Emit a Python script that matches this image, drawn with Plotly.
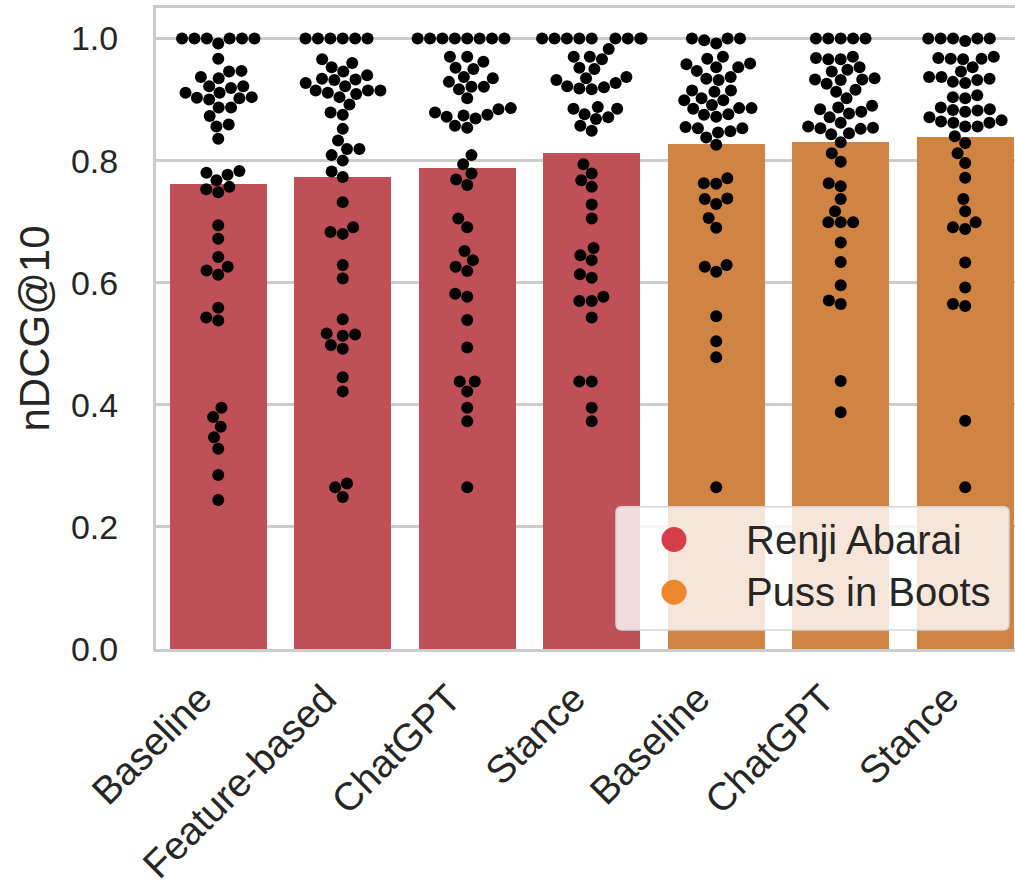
import numpy as np
import plotly.graph_objects as go

# ---- data -------------------------------------------------------------
methods = ["Baseline", "Feature-based", "ChatGPT", "Stance",
           "Baseline", "ChatGPT", "Stance"]
characters = ["Renji Abarai"] * 4 + ["Puss in Boots"] * 3

# mean nDCG@10 per method (bar heights)
mean_ndcg = [0.762, 0.773, 0.788, 0.812, 0.827, 0.830, 0.838]

# per-query nDCG@10 scores
renji_baseline = [1.0, 1.0, 1.0, 1.0, 1.0, 1.0, 0.992, 0.967, 0.946, 0.947,
                  0.935, 0.937, 0.922, 0.919, 0.922, 0.911, 0.903, 0.904, 0.900, 0.902,
                  0.911, 0.887, 0.887, 0.873, 0.859, 0.856, 0.836, 0.783, 0.780, 0.777,
                  0.768, 0.757, 0.748, 0.753, 0.694, 0.672, 0.642, 0.620, 0.613, 0.626,
                  0.559, 0.538, 0.543, 0.395, 0.380, 0.364, 0.347, 0.328, 0.285, 0.244]
renji_feature = [1.0, 1.0, 1.0, 1.0, 1.0, 1.0, 0.966, 0.960, 0.953, 0.946,
                 0.940, 0.934, 0.933, 0.932, 0.927, 0.922, 0.915, 0.911, 0.909, 0.915,
                 0.915, 0.904, 0.892, 0.879, 0.875, 0.852, 0.833, 0.819, 0.819, 0.809,
                 0.800, 0.782, 0.773, 0.732, 0.683, 0.680, 0.691, 0.629, 0.607, 0.540,
                 0.517, 0.513, 0.515, 0.498, 0.492, 0.445, 0.422, 0.265, 0.271, 0.249]
renji_chatgpt = [1.0, 1.0, 1.0, 1.0, 1.0, 1.0, 1.0, 1.0, 0.970, 0.970,
                 0.962, 0.952, 0.950, 0.937, 0.935, 0.929, 0.917, 0.921, 0.921, 0.902,
                 0.886, 0.879, 0.875, 0.874, 0.869, 0.872, 0.884, 0.857, 0.854, 0.809,
                 0.794, 0.779, 0.769, 0.760, 0.705, 0.691, 0.652, 0.637, 0.626, 0.619,
                 0.582, 0.577, 0.539, 0.494, 0.438, 0.438, 0.422, 0.395, 0.373, 0.265]
renji_stance = [1.0, 1.0, 1.0, 1.0, 1.0, 1.0, 1.0, 1.0, 1.0, 0.983,
                0.970, 0.970, 0.966, 0.950, 0.952, 0.937, 0.935, 0.927, 0.918, 0.917,
                0.920, 0.922, 0.932, 0.885, 0.876, 0.885, 0.888, 0.868, 0.871, 0.857,
                0.849, 0.794, 0.779, 0.768, 0.757, 0.728, 0.705, 0.657, 0.645, 0.637,
                0.614, 0.608, 0.570, 0.570, 0.577, 0.543, 0.438, 0.438, 0.395, 0.373]
puss_baseline = [1.0, 1.0, 1.0, 0.997, 0.992, 0.967, 0.970, 0.958, 0.953, 0.953,
                 0.959, 0.947, 0.934, 0.932, 0.937, 0.913, 0.915, 0.915, 0.902, 0.899,
                 0.899, 0.891, 0.886, 0.886, 0.885, 0.876, 0.872, 0.875, 0.855, 0.853,
                 0.848, 0.846, 0.853, 0.838, 0.826, 0.763, 0.762, 0.771, 0.737, 0.729,
                 0.738, 0.706, 0.690, 0.626, 0.618, 0.629, 0.545, 0.504, 0.478, 0.265]
puss_chatgpt = [1.0, 1.0, 1.0, 1.0, 1.0, 0.970, 0.966, 0.966, 0.968, 0.953,
                0.949, 0.946, 0.935, 0.932, 0.933, 0.933, 0.926, 0.916, 0.913, 0.902,
                0.890, 0.880, 0.877, 0.887, 0.884, 0.871, 0.856, 0.853, 0.862, 0.843,
                0.852, 0.854, 0.845, 0.830, 0.812, 0.798, 0.763, 0.758, 0.737, 0.717,
                0.699, 0.699, 0.699, 0.666, 0.634, 0.596, 0.571, 0.565, 0.439, 0.388]
puss_stance = [1.0, 1.0, 1.0, 1.0, 1.0, 0.996, 0.970, 0.967, 0.966, 0.967,
               0.968, 0.953, 0.946, 0.934, 0.929, 0.927, 0.932, 0.937, 0.937, 0.907,
               0.902, 0.904, 0.887, 0.883, 0.880, 0.882, 0.884, 0.871, 0.862, 0.862,
               0.856, 0.856, 0.864, 0.866, 0.840, 0.829, 0.812, 0.796, 0.772, 0.737,
               0.717, 0.691, 0.688, 0.699, 0.633, 0.592, 0.565, 0.562, 0.374, 0.265]

per_query = [renji_baseline, renji_feature, renji_chatgpt, renji_stance,
             puss_baseline, puss_chatgpt, puss_stance]

# ---- style ------------------------------------------------------------
legend_colors = {"Renji Abarai": "#d63d49", "Puss in Boots": "#ec872c"}
bar_colors = {"Renji Abarai": "#bf5058", "Puss in Boots": "#cf8443"}
TEXT = "#262626"
SPINE = "#cccccc"
FONT = "Liberation Sans, Arial, sans-serif"

W, H = 1015, 886
M_L, M_R, M_T, M_B = 156, 0, 8, 234
X_RANGE = [-0.5, 6.4]
Y_RANGE = [0.0, 1.05]
plot_w = W - M_L - M_R
plot_h = H - M_T - M_B
px_x = plot_w / (X_RANGE[1] - X_RANGE[0])
px_y = plot_h / (Y_RANGE[1] - Y_RANGE[0])
BAR_WIDTH = 0.78
DOT = 12


def swarm_offsets(values, diameter=12.4, half_width=0.4 * px_x):
    """Beeswarm layout: place each point (ascending) at the closest
    non-overlapping horizontal offset, then clamp to the category band."""
    ys = np.asarray(values, dtype=float) * px_y
    order = np.argsort(ys, kind="stable")
    xs = np.zeros(len(ys))
    placed = []
    for i in order:
        y = ys[i]
        near = [(px, py) for px, py in placed if abs(py - y) < diameter]
        cands = [0.0]
        for px, py in near:
            dx = np.sqrt(max(diameter ** 2 - (y - py) ** 2, 0.0))
            cands += [px - dx, px + dx]
        cands.sort(key=abs)
        x = cands[0]
        for c in cands:
            if all((c - px) ** 2 + (y - py) ** 2 >= diameter ** 2 - 1e-6
                   for px, py in near):
                x = c
                break
        placed.append((x, y))
        xs[i] = x
    xs = np.clip(xs, -half_width, half_width)
    return xs / px_x


fig = go.Figure()

positions = list(range(len(methods)))
fig.add_trace(go.Bar(
    x=positions, y=mean_ndcg, width=BAR_WIDTH,
    marker=dict(color=[bar_colors[c] for c in characters], line=dict(width=0)),
    showlegend=False, hoverinfo="skip",
))

sx, sy = [], []
for pos, vals in zip(positions, per_query):
    off = swarm_offsets(vals)
    sx.extend(pos + off)
    sy.extend(vals)
fig.add_trace(go.Scatter(
    x=sx, y=sy, mode="markers",
    marker=dict(color="black", size=DOT, line=dict(width=0)),
    showlegend=False, hoverinfo="skip",
))


# ---- legend (drawn in pixel space, converted to paper coords) --------
def pxp(x):
    return (x - M_L) / plot_w


def pyp(y):
    return (H - M_B - y) / plot_h


shapes = []
lx0, lx1, ly0, ly1, r = 616, 1009, 509, 633, 6
path = (f"M {pxp(lx0 + r)},{pyp(ly0)} L {pxp(lx1 - r)},{pyp(ly0)} "
        f"Q {pxp(lx1)},{pyp(ly0)} {pxp(lx1)},{pyp(ly0 + r)} "
        f"L {pxp(lx1)},{pyp(ly1 - r)} Q {pxp(lx1)},{pyp(ly1)} {pxp(lx1 - r)},{pyp(ly1)} "
        f"L {pxp(lx0 + r)},{pyp(ly1)} Q {pxp(lx0)},{pyp(ly1)} {pxp(lx0)},{pyp(ly1 - r)} "
        f"L {pxp(lx0)},{pyp(ly0 + r)} Q {pxp(lx0)},{pyp(ly0)} {pxp(lx0 + r)},{pyp(ly0)} Z")
shapes.append(dict(type="path", xref="paper", yref="paper", path=path,
                   fillcolor="rgba(255,255,255,0.8)",
                   line=dict(color="#d6d6d6", width=1.5), layer="above"))
annotations = []
legend_names = ["Renji Abarai", "Puss in Boots"]
for k, name in enumerate(legend_names):
    cy = 542 + k * 53
    cx, rad = 674, 12.5
    shapes.append(dict(type="circle", xref="paper", yref="paper",
                       x0=pxp(cx - rad), x1=pxp(cx + rad),
                       y0=pyp(cy + rad), y1=pyp(cy - rad),
                       fillcolor=legend_colors[name], line=dict(width=0),
                       layer="above"))
    annotations.append(dict(xref="paper", yref="paper", x=pxp(744), y=pyp(cy),
                            xanchor="left", yanchor="middle", showarrow=False,
                            text=name, font=dict(size=40, color=TEXT, family=FONT)))

fig.update_layout(
    width=W, height=H,
    margin=dict(l=M_L, r=M_R, t=M_T, b=M_B, pad=0),
    paper_bgcolor="white", plot_bgcolor="white",
    font=dict(family=FONT, color=TEXT, size=36),
    bargap=0,
    shapes=shapes,
    annotations=annotations,
    xaxis=dict(
        range=X_RANGE, tickmode="array", tickvals=positions, ticktext=methods,
        tickangle=-45, showgrid=False, zeroline=False,
        showline=True, linecolor=SPINE, linewidth=3, mirror=True,
        ticks="", ticklabelstandoff=8, ticklabelshift=-18,
        tickfont=dict(size=39, color=TEXT),
    ),
    yaxis=dict(
        range=Y_RANGE, tickmode="array",
        tickvals=[0.0, 0.2, 0.4, 0.6, 0.8, 1.0],
        ticktext=["0.0", "0.2", "0.4", "0.6", "0.8", "1.0"],
        showgrid=True, gridcolor=SPINE, gridwidth=2.5, zeroline=False,
        showline=True, linecolor=SPINE, linewidth=3,
        ticks="", ticklabelstandoff=28,
        tickfont=dict(size=34, color=TEXT),
        title=dict(text="nDCG@10", font=dict(size=42, color=TEXT), standoff=9),
    ),
)

fig.write_html("out.html")
